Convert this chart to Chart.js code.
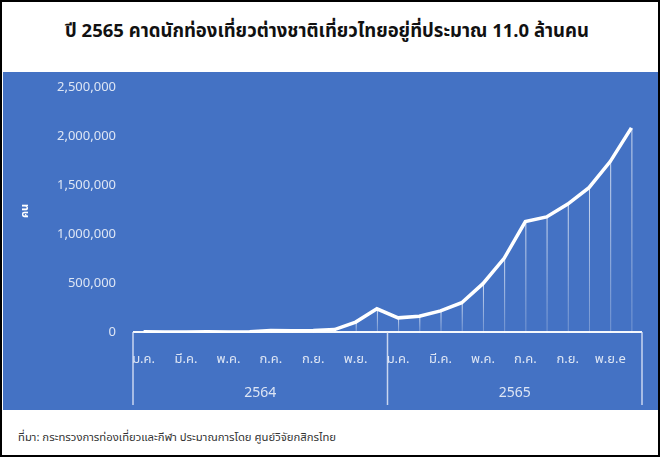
<!DOCTYPE html>
<html>
<head>
<meta charset="utf-8">
<script src="https://cdn.jsdelivr.net/npm/chart.js@4/dist/chart.umd.min.js"></script>
<style>
  html, body { margin: 0; padding: 0; background: #fff; }
  #frame { position: relative; width: 660px; height: 457px; box-sizing: border-box; border: 2px solid #000; overflow: hidden;
           font-family: Tahoma, "Noto Sans Thai", "Noto Sans", "DejaVu Sans", sans-serif; }
  #title { position: absolute; left: 0; width: 650px; top: 15px; text-align: center; font-size: 18.5px; font-weight: bold; color: #111; }
  #plot { position: absolute; left: 1px; top: 70px; width: 656px; height: 338px; background: #4472C4; }
  #source { position: absolute; left: 16px; top: 427px; font-size: 11.3px; color: #333; }
</style>
</head>
<body>
<div id="frame">
  <div id="title">ปี 2565 คาดนักท่องเที่ยวต่างชาติเที่ยวไทยอยู่ที่ประมาณ 11.0 ล้านคน</div>
  <div id="plot"><canvas id="chart" width="656" height="338"></canvas></div>
  <div id="source">ที่มา: กระทรวงการท่องเที่ยวและกีฬา ประมาณการโดย ศูนย์วิจัยกสิกรไทย</div>
</div>
<script>
// เดือน (24 เดือน) และปี
const months = ["ม.ค.","ก.พ.","มี.ค.","เม.ย.","พ.ค.","มิ.ย.","ก.ค.","ส.ค.","ก.ย.","ต.ค.","พ.ย.","ธ.ค.",
                "ม.ค.","ก.พ.","มี.ค.","เม.ย.","พ.ค.","มิ.ย.","ก.ค.","ส.ค.","ก.ย.","ต.ค.","พ.ย.e","ธ.ค.e"];
const years = ["2564", "2565"];

// นักท่องเที่ยวต่างชาติ (คน)
const tourists2564 = [12000, 10000, 10000, 12000, 10000, 12000, 25000, 22000, 25000, 35000, 112000, 248000];
const tourists2565 = [155000, 172000, 226000, 310000, 505000, 765000, 1140000, 1188000, 1320000, 1488000, 1755000, 2100000];

const yTicks = [0, 500000, 1000000, 1500000, 2000000, 2500000];

const tickColor = "rgba(255,255,255,0.82)";

// === เส้นแนวตั้ง + กลุ่มปีใต้แกน x ===
const extras = {
    id: "extras",
    beforeDatasetsDraw(chart) {
        const ctx = chart.ctx;
        const meta = chart.getDatasetMeta(0);
        const bottom = chart.chartArea.bottom;
        ctx.save();
        meta.data.forEach(pt => {
            const g = ctx.createLinearGradient(0, pt.y, 0, bottom);
            g.addColorStop(0, "rgba(255,255,255,0.75)");
            g.addColorStop(1, "rgba(255,255,255,0.25)");
            ctx.strokeStyle = g;
            ctx.lineWidth = 1;
            ctx.beginPath();
            ctx.moveTo(pt.x + 0.5, pt.y);
            ctx.lineTo(pt.x + 0.5, bottom);
            ctx.stroke();
        });
        ctx.restore();
    },
    afterDraw(chart) {
        const ctx = chart.ctx;
        const x = chart.scales.x;
        const bottom = chart.chartArea.bottom - 1;
        const step = x.getPixelForValue(1) - x.getPixelForValue(0);
        const left = x.getPixelForValue(0) - step / 2;
        const right = x.getPixelForValue(months.length - 1) + step / 2;
        const end = chart.height - 5;
        ctx.save();
        ctx.strokeStyle = "rgba(255,255,255,0.95)";
        ctx.lineWidth = 2;
        ctx.beginPath();
        ctx.moveTo(left, bottom);
        ctx.lineTo(right, bottom);
        ctx.stroke();
        ctx.strokeStyle = "rgba(225,232,248,0.85)";
        ctx.lineWidth = 1.5;
        const per = months.length / years.length;
        for (let i = 0; i <= years.length; i++) {
            const bx = left + i * per * step;
            ctx.beginPath();
            ctx.moveTo(bx, bottom);
            ctx.lineTo(bx, end);
            ctx.stroke();
        }
        ctx.fillStyle = tickColor;
        ctx.font = "14px Tahoma, 'Noto Sans Thai', 'Noto Sans', 'DejaVu Sans', sans-serif";
        ctx.textAlign = "center";
        ctx.textBaseline = "middle";
        years.forEach((yr, i) => {
            ctx.fillText(yr, left + (i + 0.5) * per * step, end - 11);
        });
        ctx.restore();
    }
};

Chart.defaults.font.family = "Tahoma, 'Noto Sans Thai', 'Noto Sans', 'DejaVu Sans', sans-serif";

new Chart(document.getElementById("chart"), {
    type: "line",
    data: {
        labels: months,
        datasets: [{
            label: "คน",
            data: tourists2564.concat(tourists2565),
            borderColor: "#ffffff",
            borderWidth: 3.5,
            pointRadius: 0,
            tension: 0,
            fill: false
        }]
    },
    options: {
        responsive: false,
        animation: false,
        layout: { padding: { top: 11, right: 17, left: 0, bottom: 0 } },
        plugins: {
            legend: { display: false },
            tooltip: { enabled: false }
        },
        scales: {
            x: {
                offset: true,
                grid: { display: false },
                border: { display: false },
                ticks: {
                    color: tickColor,
                    font: { size: 13 },
                    autoSkip: false,
                    maxRotation: 0,
                    padding: 12,
                    callback: (v, i) => (i % 2 === 0 ? months[i] : "")
                },
                afterFit: s => { s.height = 77; }
            },
            y: {
                min: 0,
                max: 2500000,
                grid: { display: false },
                border: { display: false },
                afterBuildTicks: s => { s.ticks = yTicks.map(v => ({ value: v })); },
                ticks: {
                    color: tickColor,
                    font: { size: 13 },
                    padding: 9,
                    callback: v => v.toLocaleString("en-US")
                },
                title: {
                    display: true,
                    text: "คน",
                    color: "#ffffff",
                    font: { size: 11, weight: "bold" },
                    padding: { top: 16 }
                },
                afterFit: s => { s.width = 130; }
            }
        }
    },
    plugins: [extras]
});
</script>
</body>
</html>
